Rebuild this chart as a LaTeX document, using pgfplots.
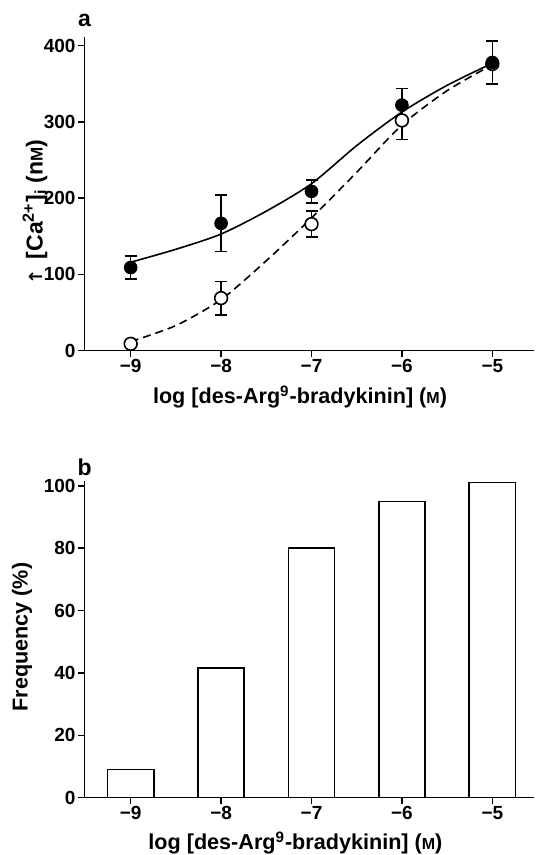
\documentclass[border=0pt]{standalone}
\usepackage{fontspec}
\setmainfont{Liberation Sans}
\newfontfamily\dejavu{DejaVu Sans}
\usepackage{pgfplots}
\pgfplotsset{compat=1.18}
\newcommand{\smM}{{\fontsize{8}{8}\selectfont M}}
\pgfplotsset{
  panel/.style={
    scale only axis, width=224.85pt,
    axis x line=bottom, axis y line=left,
    axis line style={-, line width=0.8pt},
    tick align=outside, major tick length=3pt,
    tick style={line width=0.8pt, black},
    xmin=-9.513, xmax=-4.539,
    xtick={-9,-8,-7,-6,-5},
    xticklabels={−9,−8,−7,−6,−5},
    ticklabel style={font=\fontsize{9.5}{10}\selectfont\bfseries, inner sep=1.2pt},
    /pgf/number format/assume math mode=true,
    clip=false,
  }
}
\begin{document}
\begin{tikzpicture}[x=1pt,y=1pt]
\path[use as bounding box] (0,0) rectangle (267.5,427.5);

% panel a
\begin{axis}[panel, at={(42.15pt,252.15pt)}, anchor=south west, height=157pt,
  ymin=0, ymax=411.8, ytick={0,100,200,300,400}]
\addplot[smooth, tension=0.45, line width=0.8pt] coordinates {
  (-9,116)(-8.5,133)(-8,153)(-7.5,183)(-7,219)(-6.5,269)(-6,313)(-5.5,348)(-5,377)};
\addplot[smooth, tension=0.45, dashed, dash pattern=on 4pt off 2.5pt, line width=0.8pt] coordinates {
  (-9,12)(-8.5,33)(-8,67)(-7.5,118)(-7,174)(-6.5,234)(-6,296)(-5.5,341)(-5,375)};
% open circles
\addplot[only marks, mark=*, mark size=3.2pt,
  mark options={fill=white, draw=black, line width=0.8pt},
  error bars/.cd, y dir=both, y explicit,
  error bar style={line width=0.8pt, black},
  error mark options={rotate=90, mark size=3pt, line width=0.8pt, black}]
  coordinates {(-9,9) +- (0,0) (-8,69) +- (0,22) (-7,166) +- (0,17) (-6,302) +- (0,25) (-5,376) +- (0,0)};
% filled circles
\addplot[only marks, mark=*, mark size=3.2pt,
  mark options={fill=black, draw=black},
  error bars/.cd, y dir=both, y explicit,
  error bar style={line width=0.8pt, black},
  error mark options={rotate=90, mark size=3pt, line width=0.8pt, black}]
  coordinates {(-9,109) +- (0,15) (-8,167) +- (0,37) (-7,209) +- (0,15) (-6,322) +- (0,22) (-5,378) +- (0,28)};
\end{axis}

% panel b
\begin{axis}[panel, at={(42.15pt,28.65pt)}, anchor=south west, height=158.3pt,
  ymin=0, ymax=101.5, ytick={0,20,40,60,80,100},
  ybar, bar width=0.51]
\addplot[fill=white, draw=black, line width=0.8pt] coordinates {
  (-9,9)(-8,41.5)(-7,80)(-6,95)(-5,101)};
\end{axis}

\node[font=\fontsize{11.5}{12}\selectfont\bfseries] at (42.3,417.5) {a};
\node[font=\fontsize{11.5}{12}\selectfont\bfseries] at (42.3,194) {b};
\node[rotate=90, font=\fontsize{11.5}{12}\selectfont\bfseries] at (17.5,321.5)
  {{\dejavu\fontsize{9}{9}\selectfont ↑}\, [Ca\textsuperscript{2+}]\textsubscript{i} (n{\fontsize{8.5}{9}\selectfont M})};
\node[font=\fontsize{10.8}{12}\selectfont\bfseries] at (150,229)
  {log [des-Arg\textsuperscript{9}-bradykinin] (\smM)};
\node[rotate=90, font=\fontsize{10.8}{12}\selectfont\bfseries] at (11,109) {Frequency (\%)};
\node[font=\fontsize{10.8}{12}\selectfont\bfseries] at (147.7,6)
  {log [des-Arg\textsuperscript{9}-bradykinin] (\smM)};
\end{tikzpicture}
\end{document}
